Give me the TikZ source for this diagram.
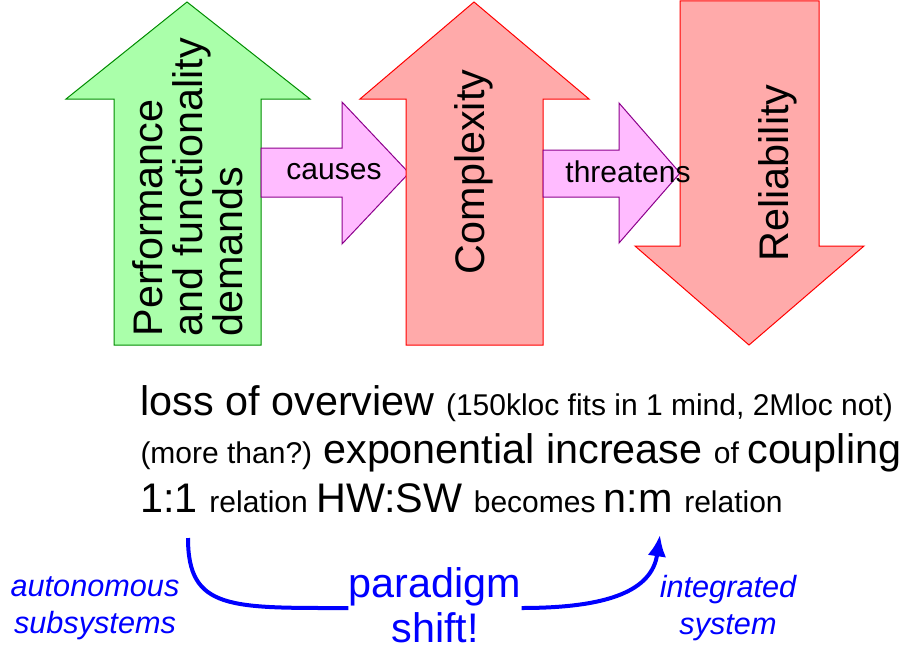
\documentclass[tikz,border=0pt]{standalone}
\usepackage{fontspec}
\setmainfont{Liberation Sans}
\usetikzlibrary{arrows.meta}
\tikzset{every picture/.style={line width=0.75pt}}
\tikzset{
  big/.style={font=\fontsize{31}{34}\selectfont},
  small/.style={font=\fontsize{22.5}{26}\selectfont},
  blu/.style={color={rgb, 255:red, 0; green, 0; blue, 255}}
}

\begin{document}
\begin{tikzpicture}[x=0.75pt,y=0.75pt,yscale=-1,xscale=1]
\useasboundingbox (0,0) rectangle (920,660);

%Shape: Up Arrow (demands)
\draw [color={rgb, 255:red, 0; green, 140; blue, 0 }, fill={rgb, 255:red, 170; green, 255; blue, 170 }]  (114,345) -- (114,99) -- (66,99) -- (187,2) -- (310,99) -- (261,99) -- (261,345) -- cycle ;
%Shape: Right Arrow (causes)
\draw [color={rgb, 255:red, 140; green, 0; blue, 140 }, fill={rgb, 255:red, 255; green, 187; blue, 255 }]  (261,148) -- (342,148) -- (342,102) -- (409,173) -- (342,244) -- (342,197) -- (261,197) -- cycle ;
%Shape: Up Arrow (complexity)
\draw [color={rgb, 255:red, 255; green, 0; blue, 0 }, fill={rgb, 255:red, 255; green, 170; blue, 170 }]  (406,345) -- (406,99) -- (360,99) -- (474,2) -- (589,99) -- (543,99) -- (543,345) -- cycle ;
%Shape: Right Arrow (threatens)
\draw [color={rgb, 255:red, 140; green, 0; blue, 140 }, fill={rgb, 255:red, 255; green, 187; blue, 255 }]  (543,150) -- (619,150) -- (619,103) -- (680,173) -- (619,243) -- (619,197) -- (543,197) -- cycle ;
%Shape: Down Arrow (reliability)
\draw [color={rgb, 255:red, 255; green, 0; blue, 0 }, fill={rgb, 255:red, 255; green, 170; blue, 170 }]  (680,1) -- (819,1) -- (819,246) -- (864,246) -- (749,345) -- (635,246) -- (680,246) -- cycle ;

% Text Node
\node (demands) [big, rotate=90, anchor=west, align=left, inner sep=0pt] at (188,337) {Performance\\[-4pt]and functionality\\[-4pt]demands};
% Text Node
\node (causes) [small, inner sep=0pt] at (334,172) {causes};
% Text Node
\node (complexity) [big, rotate=90, inner sep=0pt] at (474,172) {Complexity};
% Text Node
\node (threatens) [small, inner sep=0pt] at (628,172) {threatens};
% Text Node
\node (reliability) [big, rotate=90, inner sep=0pt] at (778,173) {Reliability};

% Text Node
\node (overview) [anchor=base west, inner sep=0pt] at (140,415) {\fontsize{31}{34}\selectfont loss of overview \fontsize{22.5}{26}\selectfont(150kloc fits in 1 mind, 2Mloc not)};
% Text Node
\node (coupling) [anchor=base west, inner sep=0pt] at (140,463) {\fontsize{22.5}{26}\selectfont(more than?) \fontsize{31}{34}\selectfont exponential increase \fontsize{22.5}{26}\selectfont of \fontsize{31}{34}\selectfont coupling};
% Text Node
\node (relation) [anchor=base west, inner sep=0pt] at (140,512) {\fontsize{31}{34}\selectfont 1:1 \fontsize{22.5}{26}\selectfont relation \fontsize{31}{34}\selectfont HW:SW \fontsize{22.5}{26}\selectfont becomes \fontsize{31}{34}\selectfont n:m \fontsize{22.5}{26}\selectfont relation};

% Text Node
\node (shift) [big, blu, align=center, inner sep=0pt] at (435,605) {paradigm\\shift!};
% Text Node
\node (autonomous) [blu, align=center, inner sep=0pt, font=\fontsize{23}{28}\selectfont\itshape] at (95,608) {autonomous\\subsystems};
% Text Node
\node (integrated) [blu, align=center, inner sep=0pt, font=\fontsize{23}{28}\selectfont\itshape] at (728,608) {integrated\\system};

\coordinate (from) at (188,538);
\coordinate (to) at (660,535);
%Curve Lines
\draw [blu, line width=3pt] (from) .. controls (188,610) and (230,608) .. (shift.west |- 0,608) ;
%Curve Lines
\draw [blu, line width=3pt, -{Latex[length=16pt,width=14pt]}] (shift.east |- 0,608) .. controls (610,608) and (652,590) .. (to) ;

\end{tikzpicture}
\end{document}
